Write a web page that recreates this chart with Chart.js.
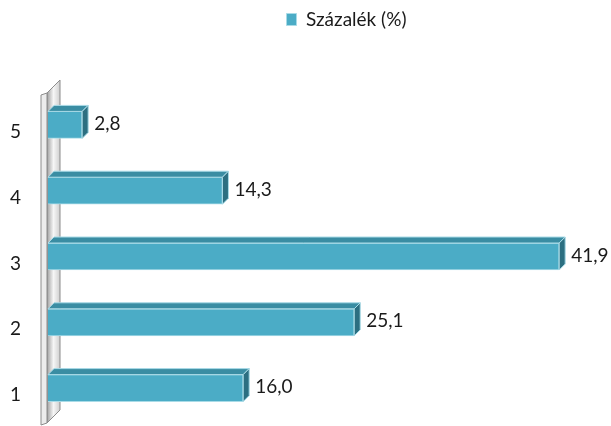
<!DOCTYPE html>
<html>
<head>
<meta charset="utf-8">
<script src="https://cdn.jsdelivr.net/npm/chart.js@4"></script>
<style>
  html, body { margin: 0; padding: 0; background: #fff; }
  #wrap { width: 611px; height: 426px; }
</style>
</head>
<body>
<div id="wrap"><canvas id="c"></canvas></div>
<script>
// chart data
const categories = ['5', '4', '3', '2', '1'];
const percentValues = [2.8, 14.3, 41.9, 25.1, 16.0];
const seriesLabel = 'Százalék (%)';

const FONT = 'Lato, "Open Sans", sans-serif';
const DEPTH = 6;

// grey 3D wall on the left side of the plot
const wallPlugin = {
  id: 'wall',
  beforeDatasetsDraw(chart) {
    const { ctx, chartArea } = chart;
    const l = chartArea.left, t = chartArea.top, b = chartArea.bottom;
    ctx.save();
    // side surface of the wall
    const g = ctx.createLinearGradient(l - 1, 0, l + 12, 0);
    g.addColorStop(0, '#a0a0a0');
    g.addColorStop(0.5, '#f6f6f6');
    g.addColorStop(1, '#cfcfcf');
    ctx.beginPath();
    ctx.moveTo(l - 1, t + 1);
    ctx.lineTo(l + 12, t - 12);
    ctx.lineTo(l + 12, b - 11);
    ctx.lineTo(l - 1, b + 2);
    ctx.closePath();
    ctx.fillStyle = g;
    ctx.fill();
    ctx.strokeStyle = '#8c8c8c';
    ctx.lineWidth = 1;
    ctx.stroke();
    // front edge of the wall
    ctx.beginPath();
    ctx.moveTo(l - 7, t + 3);
    ctx.lineTo(l - 1, t + 1);
    ctx.lineTo(l - 1, b + 2);
    ctx.lineTo(l - 7, b + 4);
    ctx.closePath();
    ctx.fillStyle = '#ececec';
    ctx.fill();
    ctx.stroke();
    ctx.restore();
  }
};

// top and right faces of each bar, plus value labels
const barFacesPlugin = {
  id: 'barFaces',
  afterDatasetsDraw(chart) {
    const { ctx } = chart;
    const meta = chart.getDatasetMeta(0);
    ctx.save();
    meta.data.forEach((bar, i) => {
      const x0 = bar.base, x1 = bar.x;
      const yTop = bar.y - bar.height / 2, yBot = bar.y + bar.height / 2;
      ctx.lineWidth = 1;
      ctx.strokeStyle = '#a9dbe7';
      // top face
      ctx.beginPath();
      ctx.moveTo(x0, yTop);
      ctx.lineTo(x0 + DEPTH, yTop - DEPTH);
      ctx.lineTo(x1 + DEPTH, yTop - DEPTH);
      ctx.lineTo(x1, yTop);
      ctx.closePath();
      ctx.fillStyle = '#3a8da3';
      ctx.fill();
      ctx.stroke();
      // right face
      ctx.beginPath();
      ctx.moveTo(x1, yTop);
      ctx.lineTo(x1 + DEPTH, yTop - DEPTH);
      ctx.lineTo(x1 + DEPTH, yBot - DEPTH);
      ctx.lineTo(x1, yBot);
      ctx.closePath();
      ctx.fillStyle = '#2c6f81';
      ctx.fill();
      ctx.stroke();
      // value label
      ctx.fillStyle = '#1a1a1a';
      ctx.font = '19px ' + FONT;
      ctx.textAlign = 'left';
      ctx.textBaseline = 'middle';
      ctx.fillText(percentValues[i].toFixed(1).replace('.', ','), x1 + DEPTH + 6, bar.y - 1);
    });
    ctx.restore();
  }
};

// make room above the plot and move the legend right
const legendPlugin = {
  id: 'legendTweak',
  beforeLayout(chart) {
    const legend = chart.legend;
    if (legend && !legend._patched) {
      const fit = legend.fit;
      legend.fit = function () { fit.call(this); this.height = 92; };
      legend._patched = true;
    }
  },
  afterLayout(chart) {
    chart.legend.left += 48;
    chart.legend.right += 48;
  }
};

new Chart(document.getElementById('c'), {
  type: 'bar',
  data: {
    labels: categories,
    datasets: [{
      label: seriesLabel,
      data: percentValues,
      backgroundColor: '#4bacc6',
      borderColor: '#a9dbe7',
      borderWidth: 1,
      barThickness: 27
    }]
  },
  options: {
    indexAxis: 'y',
    responsive: true,
    maintainAspectRatio: false,
    animation: false,
    layout: { padding: { top: 0, right: 14, bottom: 5, left: 0 } },
    plugins: {
      legend: {
        position: 'top',
        labels: {
          boxWidth: 10,
          boxHeight: 12,
          padding: 10,
          color: '#1a1a1a',
          font: { family: FONT, size: 19 }
        }
      },
      tooltip: { enabled: false }
    },
    scales: {
      x: { display: false, min: 0, max: 45 },
      y: {
        grid: { display: false },
        border: { display: false },
        ticks: {
          color: '#1a1a1a',
          font: { family: FONT, size: 19 },
          padding: 19,
          labelOffset: 7
        },
        afterFit(scale) {
          scale.width = 48;
          scale.paddingTop = 0;
          scale.paddingBottom = 0;
        }
      }
    }
  },
  plugins: [wallPlugin, barFacesPlugin, legendPlugin]
});
</script>
</body>
</html>
